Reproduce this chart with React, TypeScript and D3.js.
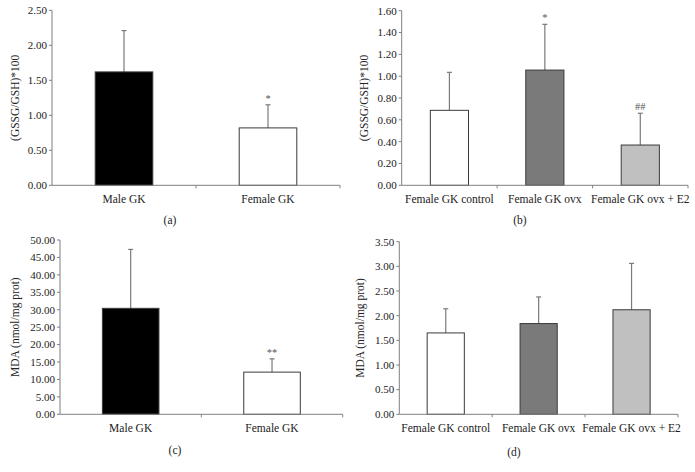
import React from "react";
import * as d3 from "d3";

const catsMF = ["Male GK", "Female GK"];
const catsOvx = ["Female GK control", "Female GK ovx", "Female GK ovx + E2"];

const gssgMF = [1.62, 0.82];
const gssgMFSd = [0.59, 0.33];
const gssgMFMarks = ["", "*"];

const gssgOvx = [0.687, 1.056, 0.369];
const gssgOvxSd = [0.348, 0.419, 0.291];
const gssgOvxMarks = ["", "*", "##"];

const mdaMF = [30.4, 12.1];
const mdaMFSd = [16.9, 3.8];
const mdaMFMarks = ["", "**"];

const mdaOvx = [1.65, 1.84, 2.12];
const mdaOvxSd = [0.49, 0.54, 0.94];
const mdaOvxMarks = ["", "", ""];

const colorsMF = ["#000000", "#ffffff"];
const colorsOvx = ["#ffffff", "#7a7a7a", "#c0c0c0"];

const FONT = "'Liberation Serif', 'Times New Roman', serif";

type PanelProps = {
  x0: number; x1: number; yTop: number; yBottom: number;
  max: number; step: number;
  cats: string[]; values: number[]; sds: number[]; marks: string[]; colors: string[];
  title: string; titleX: number; label: string; labelX: number; labelY: number;
};

function Panel(p: PanelProps) {
  const y = d3.scaleLinear().domain([0, p.max]).range([p.yBottom, p.yTop]);
  const x = d3.scaleBand<string>().domain(p.cats).range([p.x0, p.x1]).padding(0);
  const ticks = d3.range(0, p.max + p.step / 2, p.step);
  const bw = x.bandwidth() * 0.4;
  const axisColor = "#808080";
  const boundaries = p.cats.slice(1).map((c) => x(c) as number);
  return (
    <g>
      {p.cats.map((c, i) => {
        const cx = (x(c) as number) + x.bandwidth() / 2;
        const top = y(p.values[i]);
        const errTop = y(p.values[i] + p.sds[i]);
        return (
          <g key={c}>
            <line x1={cx} x2={cx} y1={top} y2={errTop} stroke="#7a7a7a" strokeWidth={1.2} />
            <line x1={cx - 2.5} x2={cx + 2.5} y1={errTop} y2={errTop} stroke="#7a7a7a" strokeWidth={1.2} />
            <rect x={cx - bw / 2} y={top} width={bw} height={p.yBottom - top}
              fill={p.colors[i]} stroke="#3a3a3a" strokeWidth={1} />
            {p.marks[i] && (
              <text x={cx} y={errTop - 3} textAnchor="middle" fontFamily={FONT} fontSize={10.5} fill="#555">
                {p.marks[i]}
              </text>
            )}
          </g>
        );
      })}
      <line x1={p.x0} x2={p.x0} y1={p.yTop} y2={p.yBottom} stroke={axisColor} strokeWidth={1} />
      <line x1={p.x0} x2={p.x1} y1={p.yBottom} y2={p.yBottom} stroke={axisColor} strokeWidth={1} />
      {ticks.map((t) => (
        <g key={t}>
          <line x1={p.x0 - 3} x2={p.x0} y1={y(t)} y2={y(t)} stroke={axisColor} strokeWidth={1} />
          <text x={p.x0 - 5} y={y(t)} dy="0.35em" textAnchor="end" fontFamily={FONT} fontSize={11} fill="#222">
            {t.toFixed(2)}
          </text>
        </g>
      ))}
      {[...boundaries, p.x1].map((bx, i) => (
        <line key={i} x1={bx} x2={bx} y1={p.yBottom} y2={p.yBottom + 3} stroke={axisColor} strokeWidth={1} />
      ))}
      {p.cats.map((c) => (
        <text key={c} x={(x(c) as number) + x.bandwidth() / 2} y={p.yBottom + 18} textAnchor="middle"
          fontFamily={FONT} fontSize={11.5} fill="#222">
          {c}
        </text>
      ))}
      <text transform={`translate(${p.titleX},${(p.yTop + p.yBottom) / 2}) rotate(-90)`} textAnchor="middle"
        fontFamily={FONT} fontSize={11.5} fill="#222">
        {p.title}
      </text>
      <text x={p.labelX} y={p.labelY} textAnchor="middle" fontFamily={FONT} fontSize={11.5} fill="#222">
        {p.label}
      </text>
    </g>
  );
}

export default function App() {
  return (
    <svg width={695} height={472} style={{ position: "absolute", left: 0, top: 0, background: "#fff" }}>
      <rect width={695} height={472} fill="#fff" />
      <Panel x0={52} x1={340} yTop={10.3} yBottom={185.3} max={2.5} step={0.5}
        cats={catsMF} values={gssgMF} sds={gssgMFSd} marks={gssgMFMarks} colors={colorsMF}
        title="(GSSG/GSH)*100" titleX={19} label="(a)" labelX={170} labelY={224} />
      <Panel x0={401.7} x1={688} yTop={10.7} yBottom={185.3} max={1.6} step={0.2}
        cats={catsOvx} values={gssgOvx} sds={gssgOvxSd} marks={gssgOvxMarks} colors={colorsOvx}
        title="(GSSG/GSH)*100" titleX={368} label="(b)" labelX={520} labelY={224} />
      <Panel x0={60} x1={342.7} yTop={240} yBottom={414.3} max={50} step={5}
        cats={catsMF} values={mdaMF} sds={mdaMFSd} marks={mdaMFMarks} colors={colorsMF}
        title="MDA (nmol/mg prot)" titleX={19} label="(c)" labelX={175} labelY={454} />
      <Panel x0={399.3} x1={678} yTop={241.7} yBottom={414.3} max={3.5} step={0.5}
        cats={catsOvx} values={mdaOvx} sds={mdaOvxSd} marks={mdaOvxMarks} colors={colorsOvx}
        title="MDA (nmol/mg prot)" titleX={364} label="(d)" labelX={514} labelY={456} />
    </svg>
  );
}
